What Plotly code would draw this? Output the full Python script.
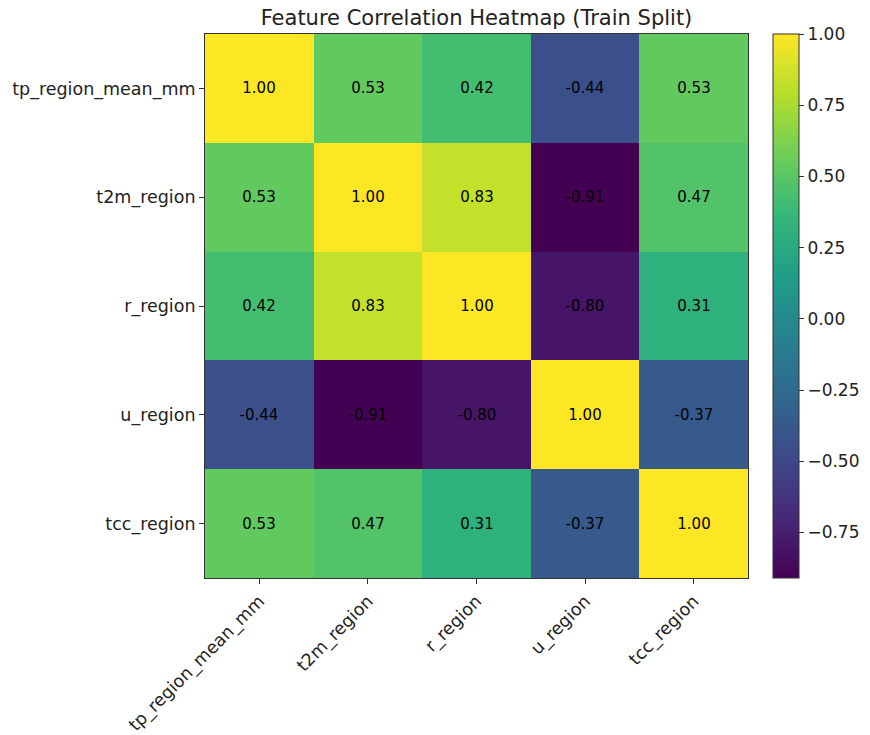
import plotly.graph_objects as go

features = ["tp_region_mean_mm", "t2m_region", "r_region", "u_region", "tcc_region"]

corr_tp = [1.00, 0.53, 0.42, -0.44, 0.53]
corr_t2m = [0.53, 1.00, 0.83, -0.91, 0.47]
corr_r = [0.42, 0.83, 1.00, -0.80, 0.31]
corr_u = [-0.44, -0.91, -0.80, 1.00, -0.37]
corr_tcc = [0.53, 0.47, 0.31, -0.37, 1.00]

cbar_ticks = [-0.75, -0.50, -0.25, 0.00, 0.25, 0.50, 0.75, 1.00]

matrix = [corr_tp, corr_t2m, corr_r, corr_u, corr_tcc]
labels = [[f"{v:.2f}" for v in row] for row in matrix]
zmin = min(min(r) for r in matrix)
zmax = max(max(r) for r in matrix)

FONT = "DejaVu Sans"

fig = go.Figure(
    go.Heatmap(
        z=matrix,
        x=features,
        y=features,
        text=labels,
        texttemplate="%{text}",
        textfont=dict(family=FONT, size=15, color="black"),
        colorscale="Viridis",
        zmin=zmin,
        zmax=zmax,
        colorbar=dict(
            x=1.0, xref="paper", xanchor="left", xpad=25,
            y=0, yanchor="bottom", len=1, lenmode="fraction", ypad=0,
            thickness=26,
            outlinecolor="#333333", outlinewidth=1,
            tickvals=cbar_ticks,
            tickformat=".2f",
            ticks="outside", ticklen=5, tickcolor="#333333",
            tickfont=dict(family=FONT, size=17, color="#222222"),
        ),
    )
)

fig.update_layout(
    width=870,
    height=735,
    margin=dict(l=205, r=122, t=34, b=157, autoexpand=False),
    paper_bgcolor="white",
    plot_bgcolor="white",
    title=dict(
        text="Feature Correlation Heatmap (Train Split)",
        x=0.5, xref="paper", xanchor="center",
        y=1, yref="paper", yanchor="bottom", pad=dict(b=9),
        font=dict(family=FONT, size=21, color="#222222"),
    ),
    font=dict(family=FONT, color="#222222"),
)

fig.update_xaxes(
    type="category",
    tickangle=-45,
    ticks="outside", ticklen=5, tickcolor="#333333",
    tickfont=dict(family=FONT, size=17.5, color="#222222"),
    showline=True, linecolor="#333333", linewidth=1, mirror=True,
    showgrid=False, zeroline=False,
)
fig.update_yaxes(
    type="category",
    autorange="reversed",
    ticks="outside", ticklen=5, tickcolor="#333333",
    tickfont=dict(family=FONT, size=17.5, color="#222222"),
    showline=True, linecolor="#333333", linewidth=1, mirror=True,
    showgrid=False, zeroline=False,
)

fig.write_html("out.html")
